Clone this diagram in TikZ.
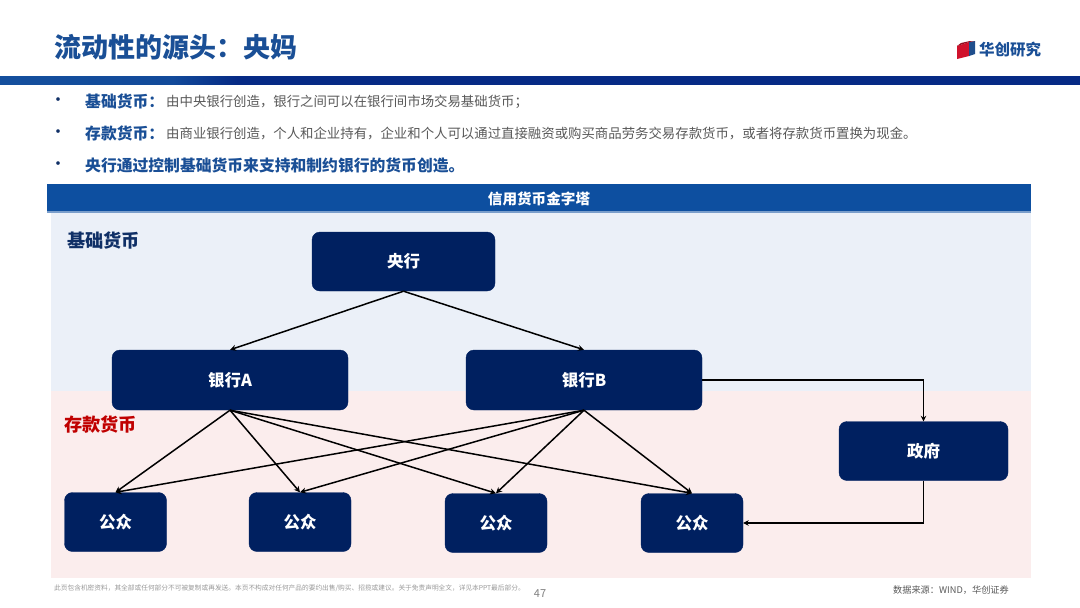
\documentclass[tikz,border=0pt]{standalone}
\usepackage{fontspec}
\setmainfont{Noto Sans CJK SC}
\usetikzlibrary{arrows.meta}
\definecolor{navy}{HTML}{002060}
\definecolor{headblue}{HTML}{0D4FA0}
\definecolor{titleblue}{HTML}{1A4F96}
\definecolor{panelblue}{HTML}{EBF0F8}
\definecolor{panelpink}{HTML}{FBEDED}
\definecolor{bodygrey}{HTML}{595959}
\definecolor{moneyred}{HTML}{C00000}
\definecolor{moneynavy}{HTML}{0F2F66}
\definecolor{logored}{HTML}{D0122C}
\definecolor{logoblue}{HTML}{1F4E8C}
\definecolor{footgrey}{HTML}{9A9A9A}
\definecolor{barleft}{HTML}{1C5FA6}
\definecolor{barmid}{HTML}{124A9A}
\definecolor{barright}{HTML}{062A85}
\newcommand{\fs}[1]{\fontsize{#1pt}{#1pt}\selectfont}
\newcommand{\dn}[1]{\raisebox{-0.8pt}{#1}}
\pgfdeclarehorizontalshading{barshade}{100bp}{
  color(0bp)=(barleft);
  color(33bp)=(barmid);
  color(36bp)=(barright);
  color(100bp)=(barright)}
\tikzset{
  x=1pt,y=-1pt,
  boxnode/.style={draw=navy,fill=navy,rounded corners=8pt,text=white,font=\fs{16.5}\bfseries,
    inner sep=0pt,anchor=center},
  bignode/.style={boxnode,minimum width=236pt,minimum height=60pt},
  pubnode/.style={boxnode,minimum width=102pt,minimum height=59pt},
  link/.style={draw=black,line width=1.5pt,-{Stealth[length=6pt,width=6pt]}},
  elbow/.style={draw=black,line width=1.3pt,-{Stealth[length=5.5pt,width=5.5pt]}},
  lefttext/.style={anchor=west,inner sep=0pt},
  bulletdot/.style={anchor=center,inner sep=0pt,text=moneynavy,font=\fs{13}\bfseries},
}
\begin{document}
\begin{tikzpicture}
\useasboundingbox (0,0) rectangle (1080,608);
\fill[white] (0,0) rectangle (1080,608);
% title and bar
\node[lefttext,text=titleblue,font=\fs{27}\bfseries] (title) at (54,47.5) {流动性的源头：央妈};
\shade[shading=barshade] (0,76) rectangle (1080,84);
% logo
\fill[logored] (957,46) -- (969,42) -- (969,56) -- (957,59) -- cycle;
\fill[logoblue] (969,42) -- (975,41) -- (975,54) -- (969,56) -- cycle;
\fill[logored!70!black] (961,43) -- (970,41) -- (975,41) -- (969,42) -- (957,46) -- cycle;
\node[anchor=center,inner sep=0pt,text=titleblue,font=\fs{15.5}\bfseries] (logo) at (1010,50) {华创研究};
% bullets
\node[bulletdot] (b1) at (58,101) {•};
\node[bulletdot] (b2) at (58,133) {•};
\node[bulletdot] (b3) at (58,165) {•};
\node[lefttext,text=titleblue,font=\fs{15.8}\bfseries] (t1) at (85,101) {基础货币：};
\node[lefttext,text=bodygrey,font=\fs{13.4}] (t1b) at (166,102) {由中央银行创造，银行之间可以在银行间市场交易基础货币；};
\node[lefttext,text=titleblue,font=\fs{15.8}\bfseries] (t2) at (85,133) {存款货币：};
\node[lefttext,text=bodygrey,font=\fs{13.4}] (t2b) at (166,134) {由商业银行创造，个人和企业持有，企业和个人可以通过直接融资或购买商品劳务交易存款货币，或者将存款货币置换为现金。};
\node[lefttext,text=titleblue,font=\fs{15.8}\bfseries] (t3) at (85,165) {央行通过控制基础货币来支持和制约银行的货币创造。};
% panels
\fill[panelblue] (51,212) rectangle (1031,391);
\fill[panelpink] (51,391) rectangle (1031,578);
\fill[headblue] (47,184) rectangle (1031,211);
\fill[headblue!55!white] (47,211) rectangle (1031,212.5);
\node[anchor=center,inner sep=0pt,text=white,font=\fs{14.6}\bfseries] (head) at (539,199) {信用货币金字塔};
\node[lefttext,text=moneynavy,font=\fs{18.2}\bfseries] (lab1) at (67,240) {基础货币};
\node[lefttext,text=moneyred,font=\fs{18.2}\bfseries] (lab2) at (64,425) {存款货币};
% boxes
\node[boxnode,minimum width=183pt,minimum height=59pt] (cb) at (403.5,261.5) {\dn{央行}};
\node[bignode] (ba) at (230,380) {\dn{银行A}};
\node[bignode] (bb) at (584,380) {\dn{银行B}};
\node[boxnode,minimum width=169pt,minimum height=59pt] (gov) at (923.5,451) {\dn{政府}};
\node[pubnode] (p1) at (115.5,522) {\dn{公众}};
\node[pubnode] (p2) at (300,522) {\dn{公众}};
\node[pubnode] (p3) at (496,523) {\dn{公众}};
\node[pubnode] (p4) at (692,523) {\dn{公众}};
% links
\draw[link] (cb.south) -- (ba.north);
\draw[link] (cb.south) -- (bb.north);
\foreach \b in {ba,bb}
  \foreach \p in {p1,p2,p3,p4}
    \draw[link] (\b.south) -- (\p.north);
\draw[elbow] (bb.east) -| (gov.north);
\draw[elbow] (gov.south) |- (p4.east);
% footer
\node[lefttext,text=footgrey,font=\fs{6.7}] (foot) at (54,588) {此页包含机密资料，其全部或任何部分不可被复制或再发送。本页不构成对任何产品的要约出售/购买、招揽或建议。关于免责声明全文，详见本PPT最后部分。};
\node[anchor=center,inner sep=0pt,text=gray,font=\fs{11}] (page) at (540,594) {47};
\node[anchor=center,inner sep=0pt,text=bodygrey,font=\fs{9.2}] (src) at (951,590) {数据来源：WIND，华创证券};
\end{tikzpicture}
\end{document}
